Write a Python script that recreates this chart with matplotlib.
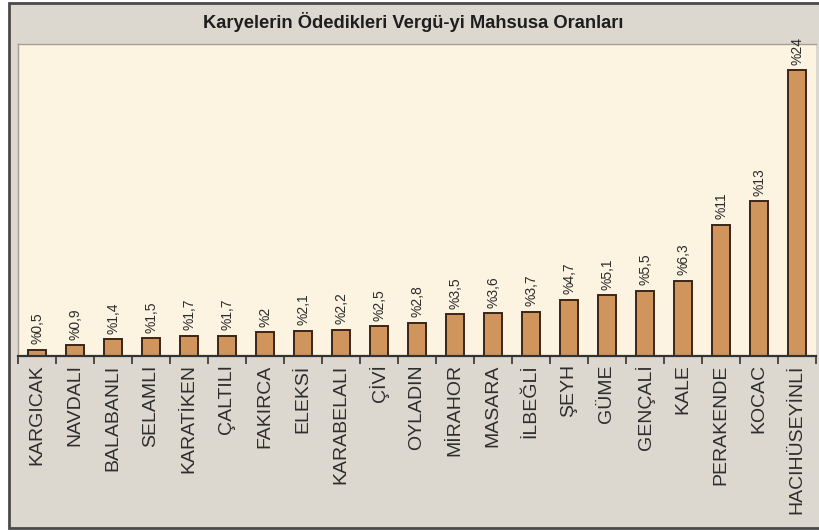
import matplotlib
matplotlib.use("Agg")
import matplotlib.pyplot as plt
from matplotlib.patches import Rectangle

# Karyeler ve oranlari (%)
villages = ["KARGICAK", "NAVDALI", "BALABANLI", "SELAMLI", "KARATİKEN", "ÇALTILI",
            "FAKIRCA", "ELEKSİ", "KARABELALI", "ÇİVİ", "OYLADIN", "MİRAHOR",
            "MASARA", "İLBEĞLİ", "ŞEYH", "GÜME", "GENÇALİ", "KALE",
            "PERAKENDE", "KOCAC", "HACIHÜSEYİNLİ"]
rates = [0.5, 0.9, 1.4, 1.5, 1.7, 1.7, 2, 2.1, 2.2, 2.5, 2.8, 3.5,
         3.6, 3.7, 4.7, 5.1, 5.5, 6.3, 11, 13, 24]

W, H = 819, 531
fig = plt.figure(figsize=(W / 100, H / 100), dpi=100, facecolor="white")

# outer grey frame
fig.patches.append(Rectangle((9 / W, 1 - 528 / H), 830 / W, 525 / H,
                             transform=fig.transFigure, facecolor="#ddd8cf",
                             edgecolor="#4a4a4a", linewidth=2, zorder=-1))

ax = fig.add_axes([18 / W, 1 - 356 / H, 798 / W, 312 / H])
ax.set_zorder(2)
ax.set_facecolor("#fcf3e1")

x = list(range(len(villages)))
ax.bar(x, rates, width=0.45, color="#cf955d", edgecolor="#3b2519", linewidth=1.4)

for xi, v in zip(x, rates):
    lbl = "%" + f"{v:g}".replace(".", ",")
    ax.annotate(lbl, (xi, v), xytext=(0, 4), textcoords="offset points",
                rotation=90, ha="center", va="bottom", fontsize=10,
                family="Liberation Sans", color="#2b2b2b", annotation_clip=False)

ax.set_xlim(-0.5, 20.45)
ax.set_ylim(0, 26.2)
ax.set_yticks([])
ax.set_xticks(x)
ax.set_xticklabels(villages, rotation=90, fontsize=14, color="#2e2e2e",
                   va="top", ha="center", family="Liberation Sans")
ax.tick_params(axis="x", which="major", length=0, pad=6)
ax.set_xticks([i - 0.5 for i in range(len(villages) + 1)], minor=True)
ax.tick_params(axis="x", which="minor", length=6, width=1.2, color="#333333",
               direction="out")

ax.spines["bottom"].set_color("#333333")
ax.spines["bottom"].set_linewidth(1.6)
for s in ["top", "left"]:
    ax.spines[s].set_color("#a59e95")
    ax.spines[s].set_linewidth(1.0)
ax.spines["right"].set_visible(False)

fig.text(413 / W, 1 - 22 / H, "Karyelerin Ödedikleri Vergü-yi Mahsusa Oranları",
         ha="center", va="center", fontsize=13.2, fontweight="bold",
         family="Liberation Sans", color="#1e1e1e")

plt.savefig("out.png", dpi=100, facecolor=fig.get_facecolor())
